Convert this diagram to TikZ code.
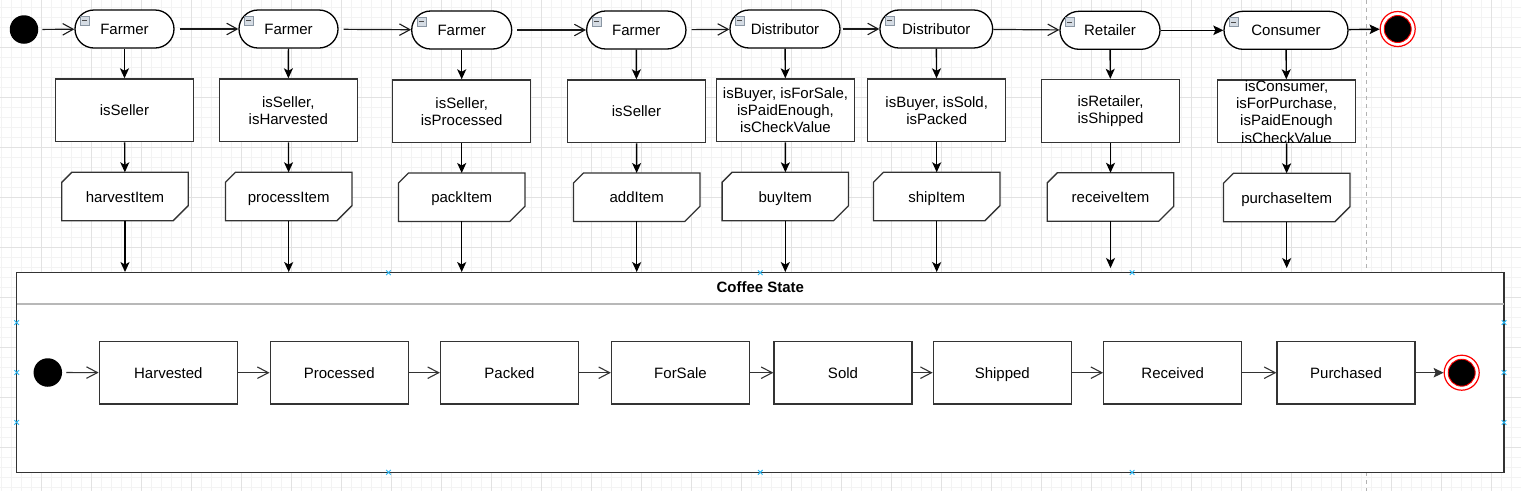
\documentclass[tikz,border=0pt]{standalone}
\usepackage{fontspec}
\setmainfont{Liberation Sans}
\usetikzlibrary{arrows.meta,calc}
\pgfdeclarelayer{bg}
\pgfdeclarelayer{shapes}
\pgfsetlayers{bg,shapes,main}
\definecolor{mk}{HTML}{29B6F2}
\definecolor{gmaj}{HTML}{E2E2E2}
\definecolor{gmin}{HTML}{F3F3F3}
\definecolor{icofill}{HTML}{D5DCE4}
\definecolor{icodraw}{HTML}{8A96A3}
\definecolor{dk}{HTML}{333333}
\begin{document}
\begin{tikzpicture}[x=1pt,y=-1pt,
  every node/.style={font=\fontsize{15}{17.25}\selectfont, inner sep=0pt},
  oneline/.style={text height=11pt, text depth=0pt},
  pill/.style={oneline, draw=black, line width=1.3pt, fill=white, rounded corners=19pt, minimum height=38pt},
  cond/.style={draw=dk, line width=1.3pt, fill=white, minimum width=138pt, minimum height=62.7pt, align=center},
  act/.style={oneline, minimum width=126pt, minimum height=48pt},
  actshape/.style={draw=dk, line width=1.3pt, fill=white},
  stbox/.style={oneline, draw=dk, line width=1.3pt, fill=white, minimum width=138pt, minimum height=62.7pt},
  initst/.style={circle, fill=black, minimum size=28.5pt},
  finring/.style={circle, draw=red, line width=1.2pt, fill=white, minimum size=35pt},
  fincore/.style={circle, draw=red, line width=0.9pt, fill=black, minimum size=27pt},
  vflow/.style={draw=black, line width=1.4pt, -{Stealth[length=10pt,width=9pt,inset=2.5pt]}},
  hopen/.style={draw=black!90, line width=1.2pt, -{Straight Barb[length=10.5pt,width=11.5pt,line width=1.1pt]}},
  hfill/.style={draw=black, line width=1.4pt, -{Stealth[length=10pt,width=9.5pt,inset=2pt]}},
  iopen/.style={draw=dk, line width=1.1pt, -{Straight Barb[length=11pt,width=11.5pt,line width=1.1pt]}},
  ifill/.style={draw=dk, line width=1.2pt, -{Stealth[length=10pt,width=9.5pt,inset=2pt]}},
  gridmin/.style={draw=gmin, line width=0.8pt},
  gridmaj/.style={draw=gmaj, line width=1pt},
  mkst/.style={draw=mk, line width=0.9pt},
  icobox/.style={draw=icodraw, line width=0.6pt, fill=icofill},
  icominus/.style={draw=black!70, line width=1.1pt}
]
\useasboundingbox (0,0) rectangle (1521,491);

% background grid and dashed separator
\begin{pgfonlayer}{bg}
  \fill[white] (0,0) rectangle (1521,491);
  \foreach \x in {1.7,11.7,...,1521} \draw[gridmin] (\x,0) -- (\x,491);
  \foreach \y in {7.7,17.7,...,491} \draw[gridmin] (0,\y) -- (1521,\y);
  \foreach \x in {41.7,91.7,...,1521} \draw[gridmaj] (\x,0) -- (\x,491);
  \foreach \y in {47.7,97.7,...,491} \draw[gridmaj] (0,\y) -- (1521,\y);
  \draw[draw=black!30, line width=1pt, dash pattern=on 4pt off 4pt] (1366.7,0) -- (1366.7,491);
\end{pgfonlayer}

% container
\node[draw=dk, line width=1.3pt, fill=white, minimum width=1487.3pt, minimum height=199.6pt] (cs) at (760.35,372.5) {};
\coordinate (hl) at (16.7,303.7);
\coordinate (hr) at (1504,303.7);
\draw[draw=black!28, line width=1.6pt] (hl) -- (hr);
\node[font=\bfseries\fontsize{15}{17}\selectfont] (ttl) at (760.3,287) {Coffee State};

% top row
\node[initst] (i0) at (24,29.5) {};
\node[pill, minimum width=99pt] (p1) at (124.5,29) {Farmer};
\node[pill, minimum width=99pt] (p2) at (288.5,29) {Farmer};
\node[pill, minimum width=100pt] (p3) at (461.7,30) {Farmer};
\node[pill, minimum width=99.3pt] (p4) at (636.3,30) {Farmer};
\node[pill, minimum width=110pt] (p5) at (785,29) {Distributor};
\node[pill, minimum width=112.7pt] (p6) at (936.3,29) {Distributor};
\node[pill, minimum width=100pt] (p7) at (1110,30.3) {Retailer};
\node[pill, minimum width=124pt] (p8) at (1286,30.3) {Consumer};
\node[finring] (f0) at (1397.7,29) {};
\node[fincore] (f0c) at (1397.7,29) {};

% collapse icons
\foreach \n in {p1,p2,p3,p4,p5,p6,p7,p8}{
  \draw[icobox] ([xshift=6pt,yshift=-7pt]\n.north west) rectangle ([xshift=15pt,yshift=-16pt]\n.north west);
  \draw[icominus] ([xshift=8pt,yshift=-11.5pt]\n.north west) -- ([xshift=13pt,yshift=-11.5pt]\n.north west);
}

% condition boxes
\node[cond] (c1) at (124.5,110.3) {isSeller};
\node[cond] (c2) at (288.3,110.3) {isSeller,\\isHarvested};
\node[cond] (c3) at (461.7,111.3) {isSeller,\\isProcessed};
\node[cond] (c4) at (636.5,111.3) {isSeller};
\node[cond] (c5) at (785.5,110.3) {isBuyer, isForSale,\\isPaidEnough,\\isCheckValue};
\node[cond] (c6) at (936.7,110.3) {isBuyer, isSold,\\isPacked};
\node[cond] (c7) at (1110.5,110.8) {isRetailer,\\isShipped};
\node[cond] (c8) at (1286.5,111.3) {};
\begin{scope}
  \clip ([xshift=0.7pt,yshift=-0.7pt]c8.north west) rectangle ([xshift=-0.7pt,yshift=0.7pt]c8.south east);
  \node[align=center] (c8t) at ([yshift=-0.5pt]c8.center) {isConsumer,\\isForPurchase,\\isPaidEnough\\isCheckValue};
\end{scope}

% action nodes
\node[act] (a1) at (125,196.5) {harvestItem};
\node[act] (a2) at (288.7,196.5) {processItem};
\node[act] (a3) at (461.7,197.2) {packItem};
\node[act] (a4) at (636.7,197.2) {addItem};
\node[act] (a5) at (785.3,196.5) {buyItem};
\node[act] (a6) at (936.7,196.5) {shipItem};
\node[act] (a7) at (1110.5,197) {receiveItem};
\node[act] (a8) at (1286.7,197.5) {purchaseItem};
\begin{pgfonlayer}{shapes}
\foreach \n in {a1,a2,a3,a4,a5,a6,a7,a8}
  \filldraw[actshape] ([xshift=10pt]\n.north west) -- (\n.north east) -- ([yshift=15pt]\n.south east) -- ([xshift=-15pt]\n.south east) -- (\n.south west) -- ([yshift=-10pt]\n.north west) -- cycle;
\end{pgfonlayer}

% top row connectors
\draw[hopen, shorten <=4pt] (i0) -- (p1);
\draw[hopen, shorten <=5pt] (p1) -- (p2);
\draw[hopen, shorten <=5pt] (p2) -- (p3);
\draw[hopen, shorten <=5pt] (p3) -- (p4);
\draw[hopen, shorten <=5pt] (p4) -- (p5);
\draw[hopen, shorten <=2pt] (p5) -- (p6);
\draw[hopen] (p6) -- (p7);
\draw[hfill] (p7) -- (p8);
\draw[hfill] (p8) -- (f0);

% vertical connectors
\foreach \k in {1,...,8}{
  \draw[vflow] (p\k) -- (c\k);
  \draw[vflow] (c\k) -- (a\k);
}
\foreach \k in {1,...,6}
  \draw[vflow] (a\k.south) -- (a\k.south |- cs.north);
\foreach \k in {7,8}
  \draw[vflow, shorten >=4pt] (a\k.south) -- (a\k.south |- cs.north);

% inner state row
\node[initst] (i1) at (47.8,372.5) {};
\node[stbox] (s1) at (168.3,372.7) {Harvested};
\node[stbox] (s2) at (339.2,372.7) {Processed};
\node[stbox] (s3) at (509.5,372.7) {Packed};
\node[stbox] (s4) at (680.5,372.7) {ForSale};
\node[stbox] (s5) at (843,372.7) {Sold};
\node[stbox] (s6) at (1002.3,372.7) {Shipped};
\node[stbox] (s7) at (1172.7,372.7) {Received};
\node[stbox] (s8) at (1346,372.7) {Purchased};
\node[finring] (f1) at (1461.7,372.7) {};
\node[fincore] (f1c) at (1461.7,372.7) {};

\draw[iopen, shorten <=4pt] (i1) -- (s1);
\foreach \a/\b in {s1/s2,s2/s3,s3/s4,s4/s5,s5/s6,s6/s7,s7/s8}
  \draw[iopen] (\a) -- (\b);
\draw[ifill] (s8) -- (f1);

% connection markers on the container
\foreach \x/\y in {388.5/272.7,760.3/272.7,1132.1/272.7,388.5/472.3,760.3/472.3,1132.1/472.3,16.7/322.6,16.7/372.5,16.7/422.4,1504/322.6,1504/372.5,1504/422.4}
  \draw[mkst] (\x-2.3,\y-2.3) -- (\x+2.3,\y+2.3) (\x-2.3,\y+2.3) -- (\x+2.3,\y-2.3);
\end{tikzpicture}
\end{document}
